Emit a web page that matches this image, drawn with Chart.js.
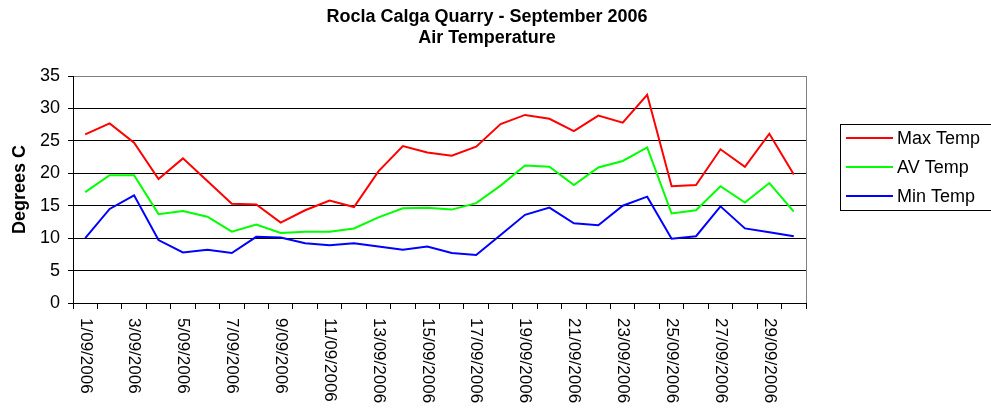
<!DOCTYPE html>
<html>
<head>
<meta charset="utf-8">
<script src="https://cdn.jsdelivr.net/npm/chart.js@4"></script>
<style>
  html, body { margin: 0; padding: 0; background: #fff; }
  #wrap { width: 991px; height: 410px; }
</style>
</head>
<body>
<div id="wrap"><canvas id="temp-plot" width="991" height="410"></canvas></div>
<script>
const dates = ['1/09/2006', '2/09/2006', '3/09/2006', '4/09/2006', '5/09/2006', '6/09/2006',
  '7/09/2006', '8/09/2006', '9/09/2006', '10/09/2006', '11/09/2006', '12/09/2006',
  '13/09/2006', '14/09/2006', '15/09/2006', '16/09/2006', '17/09/2006', '18/09/2006',
  '19/09/2006', '20/09/2006', '21/09/2006', '22/09/2006', '23/09/2006', '24/09/2006',
  '25/09/2006', '26/09/2006', '27/09/2006', '28/09/2006', '29/09/2006', '30/09/2006'];

const maxTemp = [26.0, 27.7, 24.7, 19.1, 22.3, 18.8, 15.3, 15.2, 12.4, 14.3,
  15.8, 14.8, 20.3, 24.2, 23.2, 22.7, 24.1, 27.6, 29.0, 28.4,
  26.5, 28.9, 27.8, 32.1, 18.0, 18.2, 23.7, 21.0, 26.1, 19.8];

const avTemp = [17.1, 19.7, 19.7, 13.7, 14.2, 13.3, 11.0, 12.1, 10.8, 11.0,
  11.0, 11.5, 13.2, 14.6, 14.7, 14.4, 15.4, 18.1, 21.2, 21.0,
  18.2, 20.9, 21.9, 24.0, 13.8, 14.3, 18.0, 15.5, 18.5, 14.1];

const minTemp = [10.0, 14.5, 16.6, 9.7, 7.8, 8.2, 7.7, 10.2, 10.1, 9.2,
  8.9, 9.2, 8.7, 8.2, 8.7, 7.7, 7.4, 10.5, 13.6, 14.7,
  12.3, 12.0, 15.0, 16.4, 9.9, 10.3, 14.9, 11.5, 10.9, 10.3];

const seriesNames = ['Max Temp', 'AV Temp', 'Min Temp'];
const seriesColors = ['#ff0000', '#00ff00', '#0000ff'];
const yTicks = [0, 5, 10, 15, 20, 25, 30, 35];

const FONT = '"Liberation Sans", Arial, sans-serif';

// titles, rotated date labels, legend box and plot border
const extras = {
  id: 'extras',
  afterDraw(chart) {
    const ctx = chart.ctx;
    const area = chart.chartArea;
    const xs = chart.scales.x;
    ctx.save();

    // right border of plot area
    ctx.strokeStyle = '#808080';
    ctx.lineWidth = 1;
    ctx.beginPath();
    ctx.moveTo(area.right + 0.5, area.top);
    ctx.lineTo(area.right + 0.5, area.bottom);
    ctx.stroke();

    // titles
    ctx.fillStyle = '#000';
    ctx.textAlign = 'center';
    ctx.textBaseline = 'middle';
    ctx.font = 'bold 18px ' + FONT;
    ctx.fillText('Rocla Calga Quarry - September 2006', 487, 17);
    ctx.fillText('Air Temperature', 487, 38);

    // date labels, every second day, reading downwards
    ctx.font = '17px ' + FONT;
    ctx.textAlign = 'left';
    dates.forEach((d, i) => {
      if (i % 2 !== 0) return;
      const x = xs.getPixelForValue(i);
      ctx.save();
      ctx.translate(x, 318);
      ctx.rotate(Math.PI / 2);
      ctx.fillText(d, 0, 0);
      ctx.restore();
    });

    // legend
    ctx.strokeStyle = '#000';
    ctx.strokeRect(840.5, 124.5, 160, 86);
    ctx.font = '18px ' + FONT;
    ctx.textBaseline = 'middle';
    seriesNames.forEach((name, i) => {
      const y = 138 + i * 29;
      ctx.strokeStyle = seriesColors[i];
      ctx.lineWidth = 2;
      ctx.beginPath();
      ctx.moveTo(846, y);
      ctx.lineTo(893, y);
      ctx.stroke();
      ctx.fillStyle = '#000';
      ctx.fillText(name, 897, y + 1);
    });
    ctx.restore();
  }
};

const ctx = document.getElementById('temp-plot').getContext('2d');
new Chart(ctx, {
  type: 'line',
  data: {
    labels: dates,
    datasets: [
      { label: seriesNames[0], data: maxTemp, borderColor: seriesColors[0] },
      { label: seriesNames[1], data: avTemp, borderColor: seriesColors[1] },
      { label: seriesNames[2], data: minTemp, borderColor: seriesColors[2] }
    ]
  },
  options: {
    responsive: false,
    animation: false,
    layout: { padding: { left: 0, top: 76, right: 185, bottom: 0 } },
    elements: {
      line: { borderWidth: 2, tension: 0, fill: false },
      point: { radius: 0, hoverRadius: 0 }
    },
    plugins: {
      legend: { display: false },
      title: { display: false },
      tooltip: { enabled: false }
    },
    scales: {
      x: {
        offset: true,
        afterFit: s => { s.height = 107; },
        grid: {
          offset: true,
          drawOnChartArea: false,
          drawTicks: true,
          tickLength: 6,
          color: '#000'
        },
        border: { color: '#000', width: 1 },
        ticks: { autoSkip: false, maxRotation: 0, color: 'rgba(0,0,0,0)', font: { size: 1 } }
      },
      y: {
        min: 0,
        max: 35,
        afterFit: s => { s.width = 73; },
        afterBuildTicks: s => { s.ticks = yTicks.map(v => ({ value: v })); },
        grid: {
          color: c => (c.tick && c.tick.value === 35 ? '#808080' : '#000'),
          tickColor: '#000',
          tickLength: 5
        },
        border: { color: '#000', width: 1 },
        ticks: { color: '#000', padding: 8, font: { family: FONT, size: 18 } },
        title: {
          display: true,
          text: 'Degrees C',
          color: '#000',
          padding: { top: 9, bottom: 0 },
          font: { family: FONT, size: 18, weight: 'bold' }
        }
      }
    }
  },
  plugins: [extras]
});
</script>
</body>
</html>
